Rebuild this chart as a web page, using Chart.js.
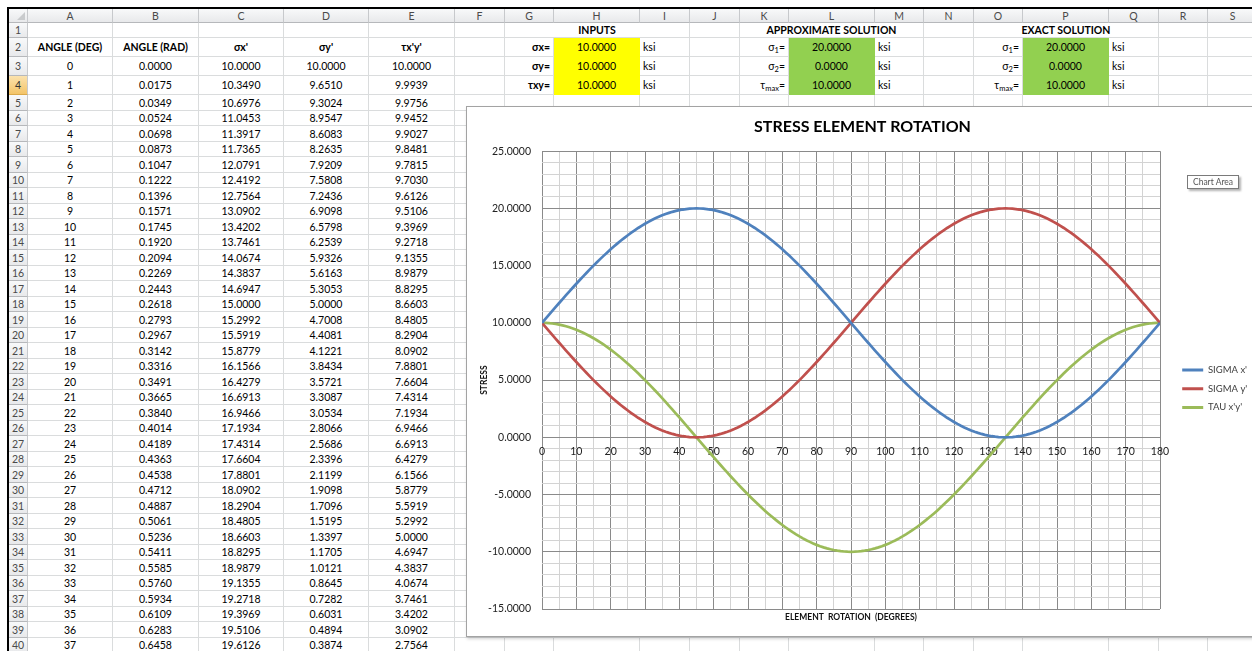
<!DOCTYPE html>
<html>
<head>
<meta charset="utf-8">
<title>Stress Element Rotation</title>
<script src="https://cdn.jsdelivr.net/npm/chart.js@4.4.1/dist/chart.umd.min.js"></script>
<style>
  html, body { margin: 0; padding: 0; background: #fff; }
  body { width: 1252px; height: 651px; overflow: hidden; position: relative;
         font-family: Lato, "Noto Sans", "DejaVu Sans", sans-serif; }
  .frame { position: absolute; background: #000; }
  .c { position: absolute; box-sizing: border-box; display: flex; align-items: center;
       white-space: nowrap; font-size: 10.5px; color: #000; padding: 0 3px;
       border-right: 1px solid #dadcdd; border-bottom: 1px solid #dadcdd; }
  .ctr { justify-content: center; }
  .rt  { justify-content: flex-end; }
  .lf  { justify-content: flex-start; }
  .bold { font-weight: 700; }
  .hd { background: linear-gradient(#f8f9fa, #e8e9eb); color: #4a4a4a;
        border-right: 1px solid #c7c9cc; border-bottom: 1px solid #b6b8bb; justify-content: center; }
  .hd.sel { background: linear-gradient(#fbe2ad, #f3c468); color: #333; border-bottom-color: #dba94a; }
  .corner-tri { position: absolute; right: 2px; bottom: 2px; width: 0; height: 0;
                border-left: 8px solid transparent; border-bottom: 8px solid #c9cbcd; }
  sub { font-size: 7.5px; vertical-align: -2px; line-height: 0; }
  #chartBox { position: absolute; left: 466px; top: 106px; width: 795px; height: 529px;
              border: 1px solid #a3a3a3; background: #fff; box-shadow: 1px 2px 3px rgba(0,0,0,0.18); }
  #chartBox canvas { position: absolute; left: 0; top: 0; }
  #tip { position: absolute; left: 1187px; top: 175px; width: 52px; height: 14px; box-sizing: border-box;
         border: 1px solid #7a7a7a; background: #fff; box-shadow: 2px 2px 2px rgba(0,0,0,0.3);
         font-size: 8.5px; color: #555; display: flex; align-items: center; justify-content: center; }
</style>
</head>
<body>
<div class="frame" style="left:7px;top:7px;width:1245px;height:2px"></div>
<div class="frame" style="left:7px;top:7px;width:2px;height:644px"></div>
<div id="sheet"></div>
<div id="chartBox"><canvas id="stressChart" width="795" height="529"></canvas></div>
<div id="tip">Chart Area</div>

<script>
// ---------- data ----------
const ANGLE_DEG = [
  0,1,2,3,4,5,6,7,8,9,10,11,12,13,14,15,16,17,18,19,20,21,22,23,24,25,26,27,28,29,
  30,31,32,33,34,35,36,37,38,39,40,41,42,43,44,45,46,47,48,49,50,51,52,53,54,55,56,57,58,59,
  60,61,62,63,64,65,66,67,68,69,70,71,72,73,74,75,76,77,78,79,80,81,82,83,84,85,86,87,88,89,
  90,91,92,93,94,95,96,97,98,99,100,101,102,103,104,105,106,107,108,109,110,111,112,113,114,115,116,117,118,119,
  120,121,122,123,124,125,126,127,128,129,130,131,132,133,134,135,136,137,138,139,140,141,142,143,144,145,146,147,148,149,
  150,151,152,153,154,155,156,157,158,159,160,161,162,163,164,165,166,167,168,169,170,171,172,173,174,175,176,177,178,179,
  180
];

const ANGLE_RAD = [
  0.0000,0.0175,0.0349,0.0524,0.0698,0.0873,0.1047,0.1222,0.1396,0.1571,
  0.1745,0.1920,0.2094,0.2269,0.2443,0.2618,0.2793,0.2967,0.3142,0.3316,
  0.3491,0.3665,0.3840,0.4014,0.4189,0.4363,0.4538,0.4712,0.4887,0.5061,
  0.5236,0.5411,0.5585,0.5760,0.5934,0.6109,0.6283,0.6458
];

const SIGMA_X = [
  10.0000,10.3490,10.6976,11.0453,11.3917,11.7365,12.0791,12.4192,12.7564,13.0902,
  13.4202,13.7461,14.0674,14.3837,14.6947,15.0000,15.2992,15.5919,15.8779,16.1566,
  16.4279,16.6913,16.9466,17.1934,17.4314,17.6604,17.8801,18.0902,18.2904,18.4805,
  18.6603,18.8295,18.9879,19.1355,19.2718,19.3969,19.5106,19.6126,19.7030,19.7815,
  19.8481,19.9027,19.9452,19.9756,19.9939,20.0000,19.9939,19.9756,19.9452,19.9027,
  19.8481,19.7815,19.7030,19.6126,19.5106,19.3969,19.2718,19.1355,18.9879,18.8295,
  18.6603,18.4805,18.2904,18.0902,17.8801,17.6604,17.4314,17.1934,16.9466,16.6913,
  16.4279,16.1566,15.8779,15.5919,15.2992,15.0000,14.6947,14.3837,14.0674,13.7461,
  13.4202,13.0902,12.7564,12.4192,12.0791,11.7365,11.3917,11.0453,10.6976,10.3490,
  10.0000,9.6510,9.3024,8.9547,8.6083,8.2635,7.9209,7.5808,7.2436,6.9098,
  6.5798,6.2539,5.9326,5.6163,5.3053,5.0000,4.7008,4.4081,4.1221,3.8434,
  3.5721,3.3087,3.0534,2.8066,2.5686,2.3396,2.1199,1.9098,1.7096,1.5195,
  1.3397,1.1705,1.0121,0.8645,0.7282,0.6031,0.4894,0.3874,0.2970,0.2185,
  0.1519,0.0973,0.0548,0.0244,0.0061,0.0000,0.0061,0.0244,0.0548,0.0973,
  0.1519,0.2185,0.2970,0.3874,0.4894,0.6031,0.7282,0.8645,1.0121,1.1705,
  1.3397,1.5195,1.7096,1.9098,2.1199,2.3396,2.5686,2.8066,3.0534,3.3087,
  3.5721,3.8434,4.1221,4.4081,4.7008,5.0000,5.3053,5.6163,5.9326,6.2539,
  6.5798,6.9098,7.2436,7.5808,7.9209,8.2635,8.6083,8.9547,9.3024,9.6510,
  10.0000
];

const SIGMA_Y = [
  10.0000,9.6510,9.3024,8.9547,8.6083,8.2635,7.9209,7.5808,7.2436,6.9098,
  6.5798,6.2539,5.9326,5.6163,5.3053,5.0000,4.7008,4.4081,4.1221,3.8434,
  3.5721,3.3087,3.0534,2.8066,2.5686,2.3396,2.1199,1.9098,1.7096,1.5195,
  1.3397,1.1705,1.0121,0.8645,0.7282,0.6031,0.4894,0.3874,0.2970,0.2185,
  0.1519,0.0973,0.0548,0.0244,0.0061,0.0000,0.0061,0.0244,0.0548,0.0973,
  0.1519,0.2185,0.2970,0.3874,0.4894,0.6031,0.7282,0.8645,1.0121,1.1705,
  1.3397,1.5195,1.7096,1.9098,2.1199,2.3396,2.5686,2.8066,3.0534,3.3087,
  3.5721,3.8434,4.1221,4.4081,4.7008,5.0000,5.3053,5.6163,5.9326,6.2539,
  6.5798,6.9098,7.2436,7.5808,7.9209,8.2635,8.6083,8.9547,9.3024,9.6510,
  10.0000,10.3490,10.6976,11.0453,11.3917,11.7365,12.0791,12.4192,12.7564,13.0902,
  13.4202,13.7461,14.0674,14.3837,14.6947,15.0000,15.2992,15.5919,15.8779,16.1566,
  16.4279,16.6913,16.9466,17.1934,17.4314,17.6604,17.8801,18.0902,18.2904,18.4805,
  18.6603,18.8295,18.9879,19.1355,19.2718,19.3969,19.5106,19.6126,19.7030,19.7815,
  19.8481,19.9027,19.9452,19.9756,19.9939,20.0000,19.9939,19.9756,19.9452,19.9027,
  19.8481,19.7815,19.7030,19.6126,19.5106,19.3969,19.2718,19.1355,18.9879,18.8295,
  18.6603,18.4805,18.2904,18.0902,17.8801,17.6604,17.4314,17.1934,16.9466,16.6913,
  16.4279,16.1566,15.8779,15.5919,15.2992,15.0000,14.6947,14.3837,14.0674,13.7461,
  13.4202,13.0902,12.7564,12.4192,12.0791,11.7365,11.3917,11.0453,10.6976,10.3490,
  10.0000
];

const TAU_XY = [
  10.0000,9.9939,9.9756,9.9452,9.9027,9.8481,9.7815,9.7030,9.6126,9.5106,
  9.3969,9.2718,9.1355,8.9879,8.8295,8.6603,8.4805,8.2904,8.0902,7.8801,
  7.6604,7.4314,7.1934,6.9466,6.6913,6.4279,6.1566,5.8779,5.5919,5.2992,
  5.0000,4.6947,4.3837,4.0674,3.7461,3.4202,3.0902,2.7564,2.4192,2.0791,
  1.7365,1.3917,1.0453,0.6976,0.3490,0.0000,-0.3490,-0.6976,-1.0453,-1.3917,
  -1.7365,-2.0791,-2.4192,-2.7564,-3.0902,-3.4202,-3.7461,-4.0674,-4.3837,-4.6947,
  -5.0000,-5.2992,-5.5919,-5.8779,-6.1566,-6.4279,-6.6913,-6.9466,-7.1934,-7.4314,
  -7.6604,-7.8801,-8.0902,-8.2904,-8.4805,-8.6603,-8.8295,-8.9879,-9.1355,-9.2718,
  -9.3969,-9.5106,-9.6126,-9.7030,-9.7815,-9.8481,-9.9027,-9.9452,-9.9756,-9.9939,
  -10.0000,-9.9939,-9.9756,-9.9452,-9.9027,-9.8481,-9.7815,-9.7030,-9.6126,-9.5106,
  -9.3969,-9.2718,-9.1355,-8.9879,-8.8295,-8.6603,-8.4805,-8.2904,-8.0902,-7.8801,
  -7.6604,-7.4314,-7.1934,-6.9466,-6.6913,-6.4279,-6.1566,-5.8779,-5.5919,-5.2992,
  -5.0000,-4.6947,-4.3837,-4.0674,-3.7461,-3.4202,-3.0902,-2.7564,-2.4192,-2.0791,
  -1.7365,-1.3917,-1.0453,-0.6976,-0.3490,0.0000,0.3490,0.6976,1.0453,1.3917,
  1.7365,2.0791,2.4192,2.7564,3.0902,3.4202,3.7461,4.0674,4.3837,4.6947,
  5.0000,5.2992,5.5919,5.8779,6.1566,6.4279,6.6913,6.9466,7.1934,7.4314,
  7.6604,7.8801,8.0902,8.2904,8.4805,8.6603,8.8295,8.9879,9.1355,9.2718,
  9.3969,9.5106,9.6126,9.7030,9.7815,9.8481,9.9027,9.9452,9.9756,9.9939,
  10.0000
];

const SERIES_NAMES = ["SIGMA x'", "SIGMA y'", "TAU x'y'"];
const TABLE_HEADERS = ["ANGLE (DEG)", "ANGLE (RAD)", "σx'", "σy'", "τx'y'"];

const INPUT_NAMES = ["σx=", "σy=", "τxy="];
const INPUT_VALUES = [10, 10, 10];
const PRINCIPAL_NAMES = ["σ<sub>1</sub>=", "σ<sub>2</sub>=", "τ<sub>max</sub>="];
const APPROX_VALUES = [20, 0, 10];
const EXACT_VALUES = [20, 0, 10];
const UNIT = "ksi";

const Y_TICKS = [-15, -10, -5, 0, 5, 10, 15, 20, 25];
const X_TICKS = [0, 10, 20, 30, 40, 50, 60, 70, 80, 90, 100, 110, 120, 130, 140, 150, 160, 170, 180];

// ---------- worksheet grid ----------
const COL_NAMES = ["A","B","C","D","E","F","G","H","I","J","K","L","M","N","O","P","Q","R","S"];
const COL_EDGES = [9, 28, 113, 199, 284, 369, 455, 505, 554, 640, 690, 740, 789, 875, 924, 974, 1023, 1109, 1159, 1208, 1258];
function rowTop(r) {            // r = 0 is the column-header strip
  const fixed = [9, 23, 38, 57, 76, 95];
  return r <= 5 ? fixed[r] : 95 + (r - 5) * 15.5;
}
const LAST_ROW = 40;
const YELLOW = "#ffff00", GREEN = "#92d050";

const sheet = document.getElementById("sheet");
function cell(x0, y0, x1, y1, cls, html, style) {
  const d = document.createElement("div");
  d.className = "c " + (cls || "");
  d.style.left = Math.round(x0) + "px";
  d.style.top = Math.round(y0) + "px";
  d.style.width = (Math.round(x1) - Math.round(x0)) + "px";
  d.style.height = (Math.round(y1) - Math.round(y0)) + "px";
  if (style) Object.assign(d.style, style);
  if (html !== undefined && html !== "") d.innerHTML = "<span>" + html + "</span>";
  sheet.appendChild(d);
  return d;
}

// corner + column headers
const corner = cell(COL_EDGES[0], rowTop(0), COL_EDGES[1], rowTop(1), "hd", "");
const tri = document.createElement("div"); tri.className = "corner-tri"; corner.appendChild(tri);
COL_NAMES.forEach((n, i) => cell(COL_EDGES[i + 1], rowTop(0), COL_EDGES[i + 2], rowTop(1), "hd", n));

// cell contents keyed by "row:col"
const content = {};
function put(r, c, html, cls, fill) { content[r + ":" + c] = { html, cls, fill }; }
const fmt = v => v.toFixed(4);

TABLE_HEADERS.forEach((h, c) => put(2, c, h, "ctr bold"));
for (let r = 3; r <= LAST_ROW; r++) {
  const i = r - 3;
  put(r, 0, String(ANGLE_DEG[i]), "ctr");
  put(r, 1, fmt(ANGLE_RAD[i]), "ctr");
  put(r, 2, fmt(SIGMA_X[i]), "ctr");
  put(r, 3, fmt(SIGMA_Y[i]), "ctr");
  put(r, 4, fmt(TAU_XY[i]), "ctr");
}
for (let k = 0; k < 3; k++) {
  const r = 2 + k;
  put(r, 6, INPUT_NAMES[k], "rt bold");
  put(r, 7, fmt(INPUT_VALUES[k]), "ctr", YELLOW);
  put(r, 8, UNIT, "lf");
  put(r, 10, PRINCIPAL_NAMES[k], "rt");
  put(r, 11, fmt(APPROX_VALUES[k]), "ctr", GREEN);
  put(r, 12, UNIT, "lf");
  put(r, 14, PRINCIPAL_NAMES[k], "rt");
  put(r, 15, fmt(EXACT_VALUES[k]), "ctr", GREEN);
  put(r, 16, UNIT, "lf");
}

// merged title blocks in row 1
const MERGES = [
  { c0: 6, c1: 8, text: "INPUTS" },
  { c0: 10, c1: 12, text: "APPROXIMATE SOLUTION" },
  { c0: 14, c1: 16, text: "EXACT SOLUTION" }
];

for (let r = 1; r <= LAST_ROW; r++) {
  const y0 = rowTop(r), y1 = rowTop(r + 1);
  cell(COL_EDGES[0], y0, COL_EDGES[1], y1, "hd" + (r === 4 ? " sel" : ""), String(r));
  for (let c = 0; c < COL_NAMES.length; c++) {
    const x0 = COL_EDGES[c + 1], x1 = COL_EDGES[c + 2];
    if (r === 1) {
      const m = MERGES.find(m => c >= m.c0 && c <= m.c1);
      if (m) {
        if (c === m.c0) cell(x0, y0, COL_EDGES[m.c1 + 2], y1, "ctr bold", m.text);
        continue;
      }
    }
    const info = content[r + ":" + c];
    if (info) {
      const st = info.fill ? { background: info.fill, borderRightColor: info.fill, borderBottomColor: info.fill } : null;
      cell(x0, y0, x1, y1, info.cls, info.html, st);
    } else {
      cell(x0, y0, x1, y1, "", "");
    }
  }
}

// ---------- chart ----------
const MAJOR = "#8a8a8a", MINOR = "#d3d3d3";
const COLORS = ["#4f81bd", "#c0504d", "#9bbb59"];
Chart.defaults.font.family = "Lato, 'Noto Sans', sans-serif";
Chart.defaults.color = "#333";

const pairs = ys => ANGLE_DEG.map((d, i) => ({ x: d, y: ys[i] }));
const seriesData = [SIGMA_X, SIGMA_Y, TAU_XY];

// invisible right-hand spacers: one between plot and legend, one after the legend
const spacer = (widthFn, weight) => ({
  type: "linear", axis: "y", position: "right", min: 0, max: 1, display: true, weight,
  ticks: { display: false }, grid: { display: false, drawTicks: false }, border: { display: false },
  afterFit: s => { s.width = widthFn(s); }
});
const LEGEND_BLOCK = 85;   // legend + trailing spacer width

new Chart(document.getElementById("stressChart"), {
  type: "line",
  data: {
    datasets: seriesData.map((ys, k) => ({
      label: SERIES_NAMES[k],
      data: pairs(ys),
      borderColor: COLORS[k],
      backgroundColor: COLORS[k],
      borderWidth: 2.7,
      pointRadius: 0,
      tension: 0,
      xAxisID: "x",
      yAxisID: "y"
    }))
  },
  options: {
    responsive: false,
    animation: false,
    devicePixelRatio: 1,
    layout: { padding: { left: 0, right: 4, top: 0, bottom: 0 } },
    scales: {
      x: {
        type: "linear", position: "bottom", min: 0, max: 180,
        ticks: { display: false, stepSize: 5, autoSkip: false },
        grid: { color: c => (c.tick && c.tick.value % 10 === 0 ? MAJOR : MINOR), lineWidth: 1, drawTicks: false },
        border: { display: false },
        title: { display: true, text: "ELEMENT  ROTATION  (DEGREES)", color: "#111",
                 font: { size: 8.5, weight: "bold" }, padding: { top: 0, bottom: 14 } },
        afterFit: s => { s.height = 27; }
      },
      xAxisLabels: {
        type: "linear", axis: "x", position: { y: 0 }, min: 0, max: 180,
        afterBuildTicks: s => { s.ticks = X_TICKS.map(v => ({ value: v })); },
        ticks: { autoSkip: false, maxRotation: 0, padding: 8, font: { size: 10.5 }, color: "#222" },
        grid: { display: false, drawTicks: false },
        border: { display: false }
      },
      y: {
        type: "linear", position: "left", min: -15, max: 25,
        ticks: { stepSize: 1, autoSkip: false, padding: 11, font: { size: 10.5 }, color: "#222",
                 callback: v => (Y_TICKS.includes(v) ? v.toFixed(4) : "") },
        grid: { color: c => (c.tick && Y_TICKS.includes(c.tick.value) ? MAJOR : MINOR), lineWidth: 1, drawTicks: false },
        border: { display: false },
        title: { display: true, text: "STRESS", color: "#111",
                 font: { size: 8.5, weight: "bold" }, padding: { top: 12, bottom: 0 } },
        afterFit: s => { s.width = 75; }
      },
      legendGap: spacer(() => 13, 0),
      rightMargin: spacer(s => Math.max(0, LEGEND_BLOCK - (s.chart.legend ? s.chart.legend.width : 0)), 2000)
    },
    plugins: {
      title: {
        display: true, text: "STRESS ELEMENT ROTATION", color: "#000",
        font: { size: 16, weight: "bold" }, padding: { top: 10, bottom: 15 }
      },
      legend: {
        position: "right",
        title: { display: true, text: " ", font: { size: 1 }, padding: { top: 33.2, bottom: 0 } },
        labels: {
          boxWidth: 21, boxHeight: 3, padding: 9.2, color: "#404040",
          font: { size: 9.5 },
          generateLabels: chart => Chart.defaults.plugins.legend.labels.generateLabels(chart)
            .map(l => Object.assign(l, { lineWidth: 0, fillStyle: l.strokeStyle }))
        }
      },
      tooltip: { enabled: false }
    }
  }
});
</script>
</body>
</html>
